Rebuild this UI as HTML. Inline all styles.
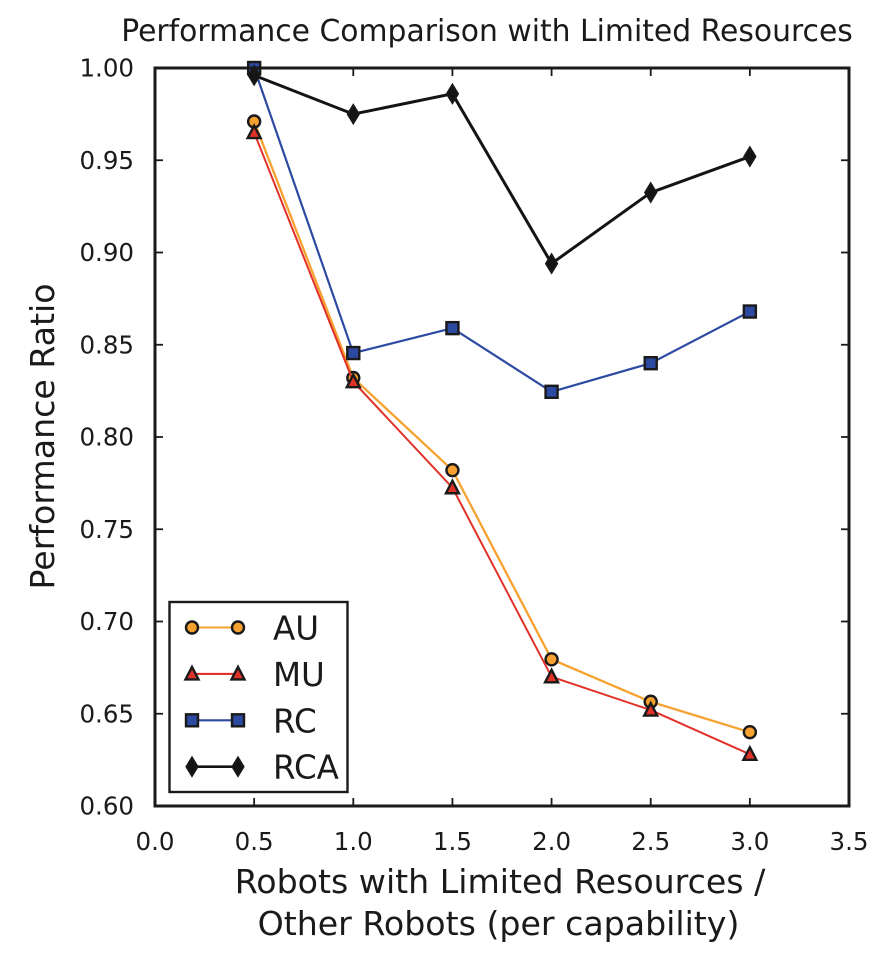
<!DOCTYPE html>
<html>
<head>
<meta charset="utf-8">
<title>Performance Comparison with Limited Resources</title>
<style>
html,body{margin:0;padding:0;background:#fff;width:878px;height:958px;overflow:hidden}
svg{display:block}
text{font-family:"DejaVu Sans","Liberation Sans",sans-serif;fill:#1a1a1a}
</style>
</head>
<body>
<svg id="chart" xmlns="http://www.w3.org/2000/svg" width="878" height="958" viewBox="0 0 878 958">
  <text x="487" y="41" font-size="29.8" text-anchor="middle">Performance Comparison with Limited Resources</text>
  <text transform="translate(54 436.5) rotate(-90)" font-size="33.2" text-anchor="middle">Performance Ratio</text>
  <text x="500" y="893" font-size="33.2" text-anchor="middle">Robots with Limited Resources /</text>
  <text x="498.5" y="935" font-size="33.2" text-anchor="middle">Other Robots (per capability)</text>
  <g id="marks"></g>
  <g id="axes"></g>
  <g id="legend"></g>
</svg>
<script>
const xCategories = [0.5, 1.0, 1.5, 2.0, 2.5, 3.0];
const auValues = [0.971, 0.832, 0.782, 0.6795, 0.6565, 0.640];
const muValues = [0.965, 0.830, 0.7725, 0.670, 0.652, 0.628];
const rcValues = [1.000, 0.8455, 0.859, 0.8245, 0.840, 0.868];
const rcaValues = [0.996, 0.975, 0.986, 0.894, 0.9325, 0.952];
const xTickLabels = ['0.0', '0.5', '1.0', '1.5', '2.0', '2.5', '3.0', '3.5'];
const yTickLabels = ['0.60', '0.65', '0.70', '0.75', '0.80', '0.85', '0.90', '0.95', '1.00'];

const NS = 'http://www.w3.org/2000/svg';
const plot = { left: 155, right: 849, top: 68, bottom: 806 };
const xMin = 0, xMax = 3.5, yMin = 0.6, yMax = 1.0;
const INK = '#1a1a1a';

function xScale(v) { return plot.left + (v - xMin) / (xMax - xMin) * (plot.right - plot.left); }
function yScale(v) { return plot.bottom - (v - yMin) / (yMax - yMin) * (plot.bottom - plot.top); }

function make(tag, attrs, parent) {
  const el = document.createElementNS(NS, tag);
  for (const k in attrs) el.setAttribute(k, attrs[k]);
  parent.appendChild(el);
  return el;
}

function drawMarker(kind, cx, cy, color, parent, name) {
  let el;
  if (kind === 'circle') {
    el = make('circle', { cx: cx, cy: cy, r: 6, fill: color, stroke: INK, 'stroke-width': 2.4 }, parent);
  } else if (kind === 'triangle') {
    el = make('polygon', { points: cx + ',' + (cy - 7) + ' ' + (cx + 6.5) + ',' + (cy + 5.5) + ' ' + (cx - 6.5) + ',' + (cy + 5.5), fill: color, stroke: INK, 'stroke-width': 2.4, 'stroke-linejoin': 'miter' }, parent);
  } else if (kind === 'square') {
    el = make('rect', { x: cx - 6, y: cy - 6, width: 12, height: 12, fill: color, stroke: INK, 'stroke-width': 2.4 }, parent);
  } else {
    el = make('polygon', { points: cx + ',' + (cy - 9.5) + ' ' + (cx + 5.8) + ',' + cy + ' ' + cx + ',' + (cy + 9.5) + ' ' + (cx - 5.8) + ',' + cy, fill: color, stroke: INK, 'stroke-width': 1.6 }, parent);
  }
  
  
}

const seriesList = [
  { name: 'AU', key: 'au', values: auValues, color: '#f7a230', width: 2.3, marker: 'circle' },
  { name: 'MU', key: 'mu', values: muValues, color: '#e03228', width: 2, marker: 'triangle' },
  { name: 'RC', key: 'rc', values: rcValues, color: '#2d4aa3', width: 2.2, marker: 'square' },
  { name: 'RCA', key: 'rca', values: rcaValues, color: '#141414', width: 3, marker: 'diamond' }
];

const marks = document.getElementById('marks');
seriesList.forEach(function (s) {
  const g = make('g', {}, marks);
  
  
  const pts = s.values.map(function (v, i) { return xScale(xCategories[i]) + ',' + yScale(v); }).join(' ');
  const line = make('polyline', { points: pts, fill: 'none', stroke: s.color, 'stroke-width': s.width }, g);
  
  
  s.values.forEach(function (v, i) {
    drawMarker(s.marker, xScale(xCategories[i]), yScale(v), s.color, g, 'point-' + s.key + '-' + xCategories[i]);
  });
});

const axes = document.getElementById('axes');
const frame = make('rect', { x: plot.left, y: plot.top, width: plot.right - plot.left, height: plot.bottom - plot.top, fill: 'none', stroke: INK, 'stroke-width': 3 }, axes);



xTickLabels.forEach(function (label) {
  const x = xScale(parseFloat(label));
  if (x > plot.left + 1 && x < plot.right - 1) {
    const t1 = make('line', { x1: x, x2: x, y1: plot.bottom, y2: plot.bottom - 8, stroke: INK, 'stroke-width': 1.8 }, axes);
    
    
    const t2 = make('line', { x1: x, x2: x, y1: plot.top, y2: plot.top + 8, stroke: INK, 'stroke-width': 1.8 }, axes);
    
    
  }
  const txt = make('text', { x: x, y: 850, 'font-size': 24.5, 'text-anchor': 'middle' }, axes);
  
  
  txt.textContent = label;
});

yTickLabels.forEach(function (label) {
  const y = yScale(parseFloat(label));
  if (y > plot.top + 1 && y < plot.bottom - 1) {
    const t1 = make('line', { x1: plot.left, x2: plot.left + 8, y1: y, y2: y, stroke: INK, 'stroke-width': 1.8 }, axes);
    
    
    const t2 = make('line', { x1: plot.right, x2: plot.right - 8, y1: y, y2: y, stroke: INK, 'stroke-width': 1.8 }, axes);
    
    
  }
  const txt = make('text', { x: 134, y: y + 8.5, 'font-size': 24.5, 'text-anchor': 'end' }, axes);
  
  
  txt.textContent = label;
});

const legend = document.getElementById('legend');
const box = make('rect', { x: 169.5, y: 602, width: 178, height: 190, fill: '#fff', stroke: INK, 'stroke-width': 2.4 }, legend);


seriesList.forEach(function (s, i) {
  const cy = 627.5 + i * 46.4;
  const g = make('g', {}, legend);
  
  
  const ln = make('line', { x1: 192, x2: 238, y1: cy, y2: cy, stroke: s.color, 'stroke-width': s.key === 'rca' ? 2.6 : 2.1 }, g);
  
  
  drawMarker(s.marker, 192, cy, s.color, g, 'legend-marker-' + s.key);
  drawMarker(s.marker, 238, cy, s.color, g, 'legend-marker-' + s.key);
  const t = make('text', { x: 273, y: cy + 12, 'font-size': 32.5 }, g);
  
  
  t.textContent = s.name;
});
</script>
</body>
</html>
